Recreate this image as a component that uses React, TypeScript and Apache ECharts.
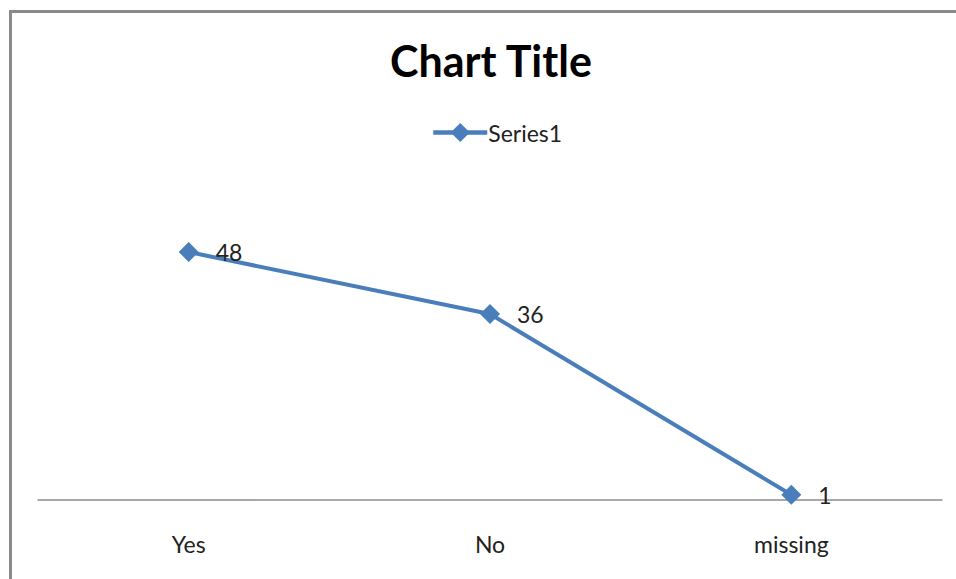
import React, { useEffect, useRef } from "react";
import * as echarts from "echarts";

const categories = ["Yes", "No", "missing"];
const seriesName = "Series1";
const values = [48, 36, 1];

const FONT = "Lato, 'Open Sans', sans-serif";
const BLUE = "#4A7EBB";

export default function App() {
  const ref = useRef<HTMLDivElement>(null);

  useEffect(() => {
    if (!ref.current) return;
    const chart = echarts.init(ref.current, undefined, { renderer: "svg" });
    chart.setOption({
      animation: false,
      backgroundColor: "#ffffff",
      title: {
        text: "Chart Title",
        left: 486,
        top: 34,
        textAlign: "center",
        textStyle: { fontFamily: FONT, fontSize: 43, fontWeight: "bold", color: "#000" },
      },
      legend: {
        data: [seriesName],
        left: 426,
        top: 116,
        itemWidth: 54,
        itemHeight: 24,
        itemGap: 4,
        lineStyle: { width: 4.5 },
        textStyle: { fontFamily: FONT, fontSize: 23, color: "#222", padding: [0, 0, 0, -4] },
      },
      graphic: [
        {
          type: "rect",
          shape: { x: 10.5, y: 11.5, width: 1200, height: 1200 },
          style: { fill: "none", stroke: "#8a8a8a", lineWidth: 3 },
          silent: true,
        },
      ],
      grid: { left: 38, right: 14, top: 190, bottom: 79 },
      xAxis: {
        type: "category",
        data: categories,
        boundaryGap: true,
        axisLine: { lineStyle: { color: "#8c8c8c", width: 1.5 } },
        axisTick: { show: false },
        axisLabel: { margin: 32, fontFamily: FONT, fontSize: 23, color: "#222" },
      },
      yAxis: {
        type: "value",
        min: 0,
        max: 60,
        show: false,
        splitLine: { show: false },
      },
      series: [
        {
          name: seriesName,
          type: "line",
          data: values,
          symbol: "diamond",
          symbolSize: 20,
          itemStyle: { color: BLUE },
          lineStyle: { color: BLUE, width: 4 },
          label: {
            show: true,
            position: "right",
            distance: 17,
            fontFamily: FONT,
            fontSize: 23,
            color: "#222",
          },
        },
      ],
    });
    return () => chart.dispose();
  }, []);

  return (
    <div
      ref={ref}
      style={{ position: "absolute", left: 0, top: 0, width: 956, height: 579 }}
    />
  );
}
